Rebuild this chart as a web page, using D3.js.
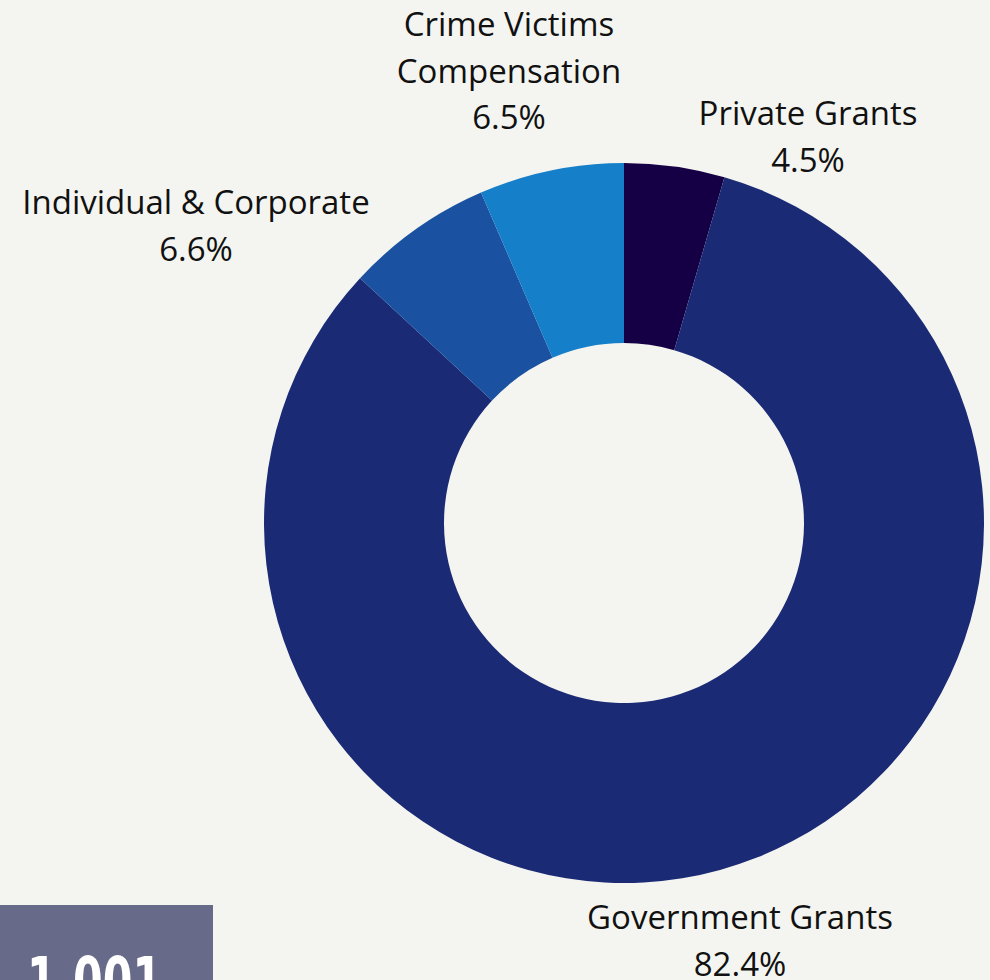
<!DOCTYPE html>
<html lang="en">
<head>
    <meta charset="UTF-8">
    <title>Funding sources</title>
    <script src="https://cdn.jsdelivr.net/npm/d3@7/dist/d3.min.js"></script>
    <style>
        body {
            margin: 0;
            background-color: #f4f5f0;
        }

        .label {
            font-family: "Open Sans", "Noto Sans", sans-serif;
            font-size: 33px;
            fill: #111;
        }

        .badge-text {
            font-family: "DejaVu Sans Condensed", "DejaVu Sans", sans-serif;
            font-weight: bold;
            font-size: 66px;
            fill: #fff;
        }
    </style>
</head>
<body>

<div id="chartArea"></div>

<script>
    'use strict';

    // Slices, clockwise from 12 o'clock.
    const categories = ['Private Grants', 'Government Grants', 'Individual & Corporate', 'Crime Victims Compensation'];
    const values = [4.5, 82.4, 6.6, 6.5];
    const colors = ['#150046', '#1b2a75', '#1a52a1', '#167fc9'];

    // Label lines, as they are broken in the picture.
    const labelLines = [
        ['Private Grants'],
        ['Government Grants'],
        ['Individual & Corporate'],
        ['Crime Victims', 'Compensation']
    ];

    const width = 990;
    const height = 980;
    const cx = 624;
    const cy = 523;
    const outerRadius = 360;
    const innerRadius = 180;
    const lineHeight = 46.5;

    // Where each label block's first baseline sits (centred on x).
    const labelAnchors = [[808, 125], [740, 929], [196, 214], [509, 36]];

    const svg = d3.select('#chartArea').append('svg')
        .attr('width', width)
        .attr('height', height);

    const slices = categories.map(function(name, i) {
        return { name: name, value: values[i], color: colors[i], lines: labelLines[i], anchor: labelAnchors[i] };
    });

    const pie = d3.pie().sort(null).value(function(d) { return d.value; });
    const arc = d3.arc().innerRadius(innerRadius).outerRadius(outerRadius);

    const g = svg.append('g').attr('transform', 'translate(' + cx + ',' + cy + ')');

    g.selectAll('path')
        .data(pie(slices))
        .enter().append('path')
        .attr('d', arc)
        .attr('fill', function(d) { return d.data.color; });

    // Labels
    const labels = svg.selectAll('text.label')
        .data(slices)
        .enter().append('text')
        .attr('class', 'label')
        .attr('text-anchor', 'middle');

    labels.each(function(d) {
        const t = d3.select(this);
        const lines = d.lines.concat([d3.format('.1f')(d.value) + '%']);
        lines.forEach(function(line, i) {
            t.append('tspan')
                .attr('x', d.anchor[0])
                .attr('y', d.anchor[1] + i * lineHeight)
                .text(line);
        });
    });

    // Cut-off badge in the lower left corner.
    svg.append('rect')
        .attr('x', 0)
        .attr('y', 905)
        .attr('width', 213)
        .attr('height', height - 905)
        .attr('fill', '#676a89');

    svg.append('text')
        .attr('class', 'badge-text')
        .attr('transform', 'translate(27,1004) scale(0.72,1)')
        .text('1,001');
</script>

</body>
</html>
